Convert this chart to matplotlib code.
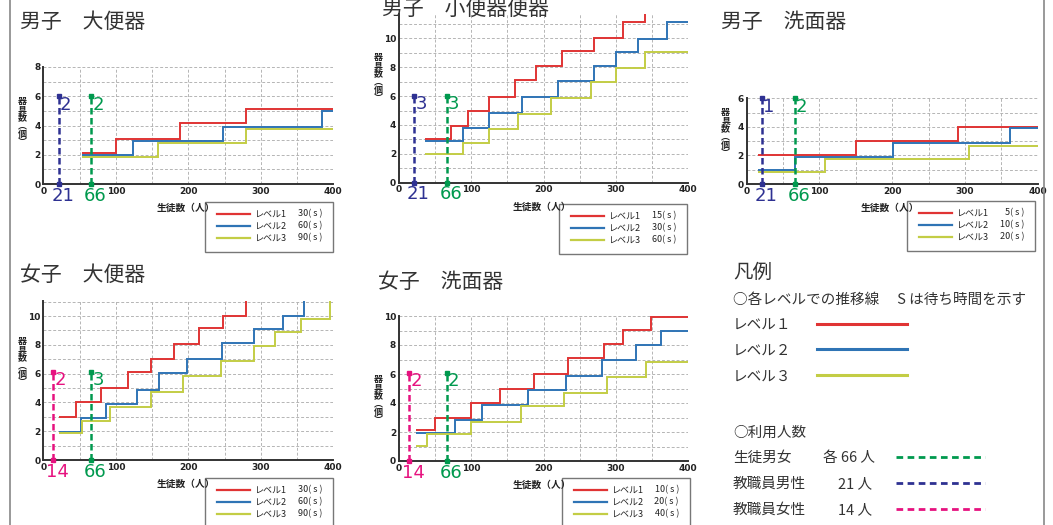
import matplotlib
matplotlib.use("Agg")
import matplotlib.pyplot as plt
from matplotlib.lines import Line2D
from matplotlib.patches import Rectangle
from matplotlib.ticker import MultipleLocator

plt.rcParams['font.family'] = ['Noto Sans CJK JP', 'DejaVu Sans']

W, H = 1053, 525
RED, BLUE, YEL = '#e03434', '#2f74b5', '#c3cd45'
NAVY, GREEN, PINK = '#2e3192', '#00994e', '#e6127f'
LEVEL_COLORS = [RED, BLUE, YEL]
NUM_FONT = ['Liberation Sans Narrow', 'DejaVu Sans']

# ---- data: step edges (生徒数) and 器具数 for each level ----
# 男子 大便器
m_dai_edges = [[54, 100, 189, 280, 400], [54, 124, 248, 384, 400], [54, 158, 280, 400]]
m_dai_vals = [[2.1, 3.05, 4.15, 5.15], [1.98, 2.92, 3.93, 4.98], [1.82, 2.77, 3.77]]
m_dai_wait = [30, 60, 90]
# 男子 小便器
m_sho_edges = [[36, 72, 96, 124, 160, 190, 225, 270, 310, 340, 400],
               [36, 88, 124, 170, 220, 270, 300, 330, 370, 400],
               [36, 89, 124, 164, 210, 265, 300, 340, 400]]
m_sho_vals = [[3.03, 3.95, 4.97, 5.96, 7.1, 8.08, 9.12, 10.0, 11.1, 12.0],
              [2.86, 3.81, 4.85, 5.96, 7.05, 8.1, 9.05, 9.95, 11.1],
              [2.0, 2.77, 3.75, 4.77, 5.9, 6.95, 7.97, 9.05]]
m_sho_wait = [15, 30, 60]
# 男子 洗面器
m_sen_edges = [[15, 150, 290, 400], [15, 66, 201, 362, 400], [15, 107, 306, 400]]
m_sen_vals = [[2.06, 3.01, 4.02], [0.98, 1.87, 2.85, 3.93], [0.84, 1.73, 2.69]]
m_sen_wait = [5, 10, 20]
# 女子 大便器
f_dai_edges = [[22, 45, 80, 117, 148, 180, 215, 248, 279, 400],
               [22, 52, 86, 129, 160, 198, 246, 291, 330, 359, 400],
               [22, 53, 92, 149, 193, 245, 290, 320, 356, 395, 400]]
f_dai_vals = [[3.0, 4.0, 5.02, 6.09, 7.04, 8.03, 9.14, 10.02, 11.6],
              [1.97, 2.89, 3.91, 4.86, 6.02, 7.01, 8.1, 9.07, 10.02, 11.6],
              [1.85, 2.71, 3.68, 4.7, 5.81, 6.9, 7.89, 8.89, 9.81, 11.6]]
f_dai_wait = [30, 60, 90]
# 女子 洗面器
f_sen_edges = [[23, 50, 99, 140, 187, 234, 284, 310, 348, 400],
               [23, 78, 115, 179, 231, 281, 328, 362, 400],
               [23, 39, 99, 168, 228, 288, 342, 400]]
f_sen_vals = [[2.14, 2.99, 3.98, 4.97, 5.98, 7.08, 8.07, 9.03, 9.95],
              [1.95, 2.85, 3.84, 4.9, 5.89, 6.97, 8.0, 8.97],
              [1.01, 1.84, 2.71, 3.79, 4.71, 5.77, 6.83]]
f_sen_wait = [10, 20, 40]

# 利用人数 (x) and 器具数 needed (label)
m_dai_users = [(21, '2', NAVY), (66, '2', GREEN)]
m_sho_users = [(21, '3', NAVY), (66, '3', GREEN)]
m_sen_users = [(21, '1', NAVY), (66, '2', GREEN)]
f_dai_users = [(14, '2', PINK), (66, '3', GREEN)]
f_sen_users = [(14, '2', PINK), (66, '2', GREEN)]

fig = plt.figure(figsize=(W / 100, H / 100), dpi=100)


def fx(x):
    return x / W


def fy(y):
    return 1 - y / H


def panel(title, tpos, box, ylim, ytop_px, edges, vals, users, dash_top, wait, legpos):
    l, r, y0px, ylab_px = box
    # axes from pixel box: y0px = pixel of y=0, ytop_px = pixel of ylim top
    ax = fig.add_axes([fx(l), fy(y0px), (r - l) / W, (y0px - ytop_px) / H])
    ax.set_xlim(0, 400)
    ax.set_ylim(0, ylim)
    for s in ['top', 'right']:
        ax.spines[s].set_visible(False)
    for s in ['left', 'bottom']:
        ax.spines[s].set_color('#333333')
        ax.spines[s].set_linewidth(1.4)
    ax.xaxis.set_major_locator(MultipleLocator(100))
    ax.xaxis.set_minor_locator(MultipleLocator(50))
    ax.yaxis.set_major_locator(MultipleLocator(2))
    ax.yaxis.set_minor_locator(MultipleLocator(1))
    ax.grid(which='both', color='#b5b5b5', ls=(0, (3, 2)), lw=0.7)
    ax.set_axisbelow(True)
    ax.tick_params(which='both', length=0, labelsize=6.5, pad=2, colors='#222222')
    for t in ax.get_xticklabels() + ax.get_yticklabels():
        t.set_fontweight('bold')
        t.set_family('DejaVu Sans')
    ax.axvline(400, color='#b5b5b5', ls=(0, (3, 2)), lw=0.7, zorder=0)

    for e, v, c in zip(edges, vals, LEVEL_COLORS):
        ax.stairs(v, e, baseline=None, color=c, lw=1.4, zorder=3)

    for x, lab, c in users:
        ax.plot([x, x], [0, dash_top], color=c, lw=1.8, ls=(0, (2.6, 1.4)),
                marker='s', ms=2.5, zorder=4, clip_on=False)
        ax.text(x + 1.5, dash_top + 0.05, lab, color=c, fontsize=13, family=NUM_FONT,
                ha='left', va='top', zorder=5)
        ax.annotate(str(x), xy=(x + 6, 0), xycoords='data', xytext=(0, -2),
                    textcoords='offset points', color=c, fontsize=13, family=NUM_FONT,
                    ha='center', va='top', annotation_clip=False)

    fig.text(fx(tpos[0]), fy(tpos[1]), title, fontsize=15, color='#333333', va='center')
    # stacked y label
    fig.text(fx(l - 21), fy(ylab_px), '器\n具\n数\n︵\n個\n︶', fontsize=6.5, fontweight='bold',
             ha='center', va='center', linespacing=0.88, color='#222222')
    fig.text(fx((l + r) / 2 - 2), fy(y0px + 24), '生徒数（人）', fontsize=7, fontweight='bold',
             ha='center', va='center', color='#222222')

    # level legend box
    bx, by = legpos
    fig.add_artist(Rectangle((fx(bx), fy(by + 50)), 128 / W, 50 / H, transform=fig.transFigure,
                             fc='white', ec='#777777', lw=1))
    for i, (c, w) in enumerate(zip(LEVEL_COLORS, wait)):
        yy = by + 12 + 12 * i
        fig.add_artist(Line2D([fx(bx + 12), fx(bx + 45)], [fy(yy)] * 2, color=c, lw=1.6))
        fig.text(fx(bx + 50), fy(yy), f'レベル{i + 1}', fontsize=6.5, va='center', color='#222222')
        fig.text(fx(bx + 117), fy(yy), f'{w}( s )', fontsize=6.5, va='center', ha='right',
                 color='#222222')
    return ax


panel('男子　大便器', (20, 22), (43.3, 333.3, 184, 122), 8, 67,
      m_dai_edges, m_dai_vals, m_dai_users, 6, m_dai_wait, (205, 202))
panel('男子　小便器便器', (382, 9), (399, 688.3, 182.7, 78), 11.7, 13.8,
      m_sho_edges, m_sho_vals, m_sho_users, 6, m_sho_wait, (559, 204))
panel('男子　洗面器', (721, 22), (746.7, 1037.7, 184, 133), 6, 98.3,
      m_sen_edges, m_sen_vals, m_sen_users, 6, m_sen_wait, (907, 201))
panel('女子　大便器', (20, 275), (43.3, 333.3, 460, 362), 11.07, 300.6,
      f_dai_edges, f_dai_vals, f_dai_users, 6.1, f_dai_wait, (205, 478))
panel('女子　洗面器', (378, 282), (399, 688.3, 461, 400), 10, 316,
      f_sen_edges, f_sen_vals, f_sen_users, 6.1, f_sen_wait, (562, 478))

# ---- 凡例 ----
TXT = '#333333'
fig.text(fx(733), fy(272), '凡例', fontsize=14, color=TXT, va='center')
fig.text(fx(733), fy(300), '○各レベルでの推移線　 S は待ち時間を示す', fontsize=10.5, color=TXT,
         va='center')
for i, (c, yy) in enumerate(zip(LEVEL_COLORS, [326, 351, 377])):
    fig.text(fx(733), fy(yy), f'レベル{"１２３"[i]}', fontsize=10.5, color=TXT, va='center')
    fig.add_artist(Line2D([fx(817), fx(907)], [fy(yy - 2)] * 2, color=c, lw=2.2))
fig.text(fx(733), fy(433), '○利用人数', fontsize=10.5, color=TXT, va='center')
users_legend = [('生徒男女', '各 66 人', 823, GREEN, 458),
                ('教職員男性', '21 人', 838, NAVY, 484),
                ('教職員女性', '14 人', 838, PINK, 510)]
for name, cnt, cx, c, yy in users_legend:
    fig.text(fx(733), fy(yy), name, fontsize=10.5, color=TXT, va='center')
    fig.text(fx(cx), fy(yy), cnt, fontsize=10.5, color=TXT, va='center')
    fig.add_artist(Line2D([fx(896), fx(985)], [fy(yy - 1)] * 2, color=c, lw=2,
                          ls=(0, (2.4, 1.6))))

# frame lines
fig.add_artist(Line2D([fx(10), fx(10)], [0, 1], color='#888888', lw=1.2))
fig.add_artist(Line2D([fx(1044), fx(1044)], [0, 1], color='#888888', lw=1.2))

fig.savefig('out.png', dpi=100)
